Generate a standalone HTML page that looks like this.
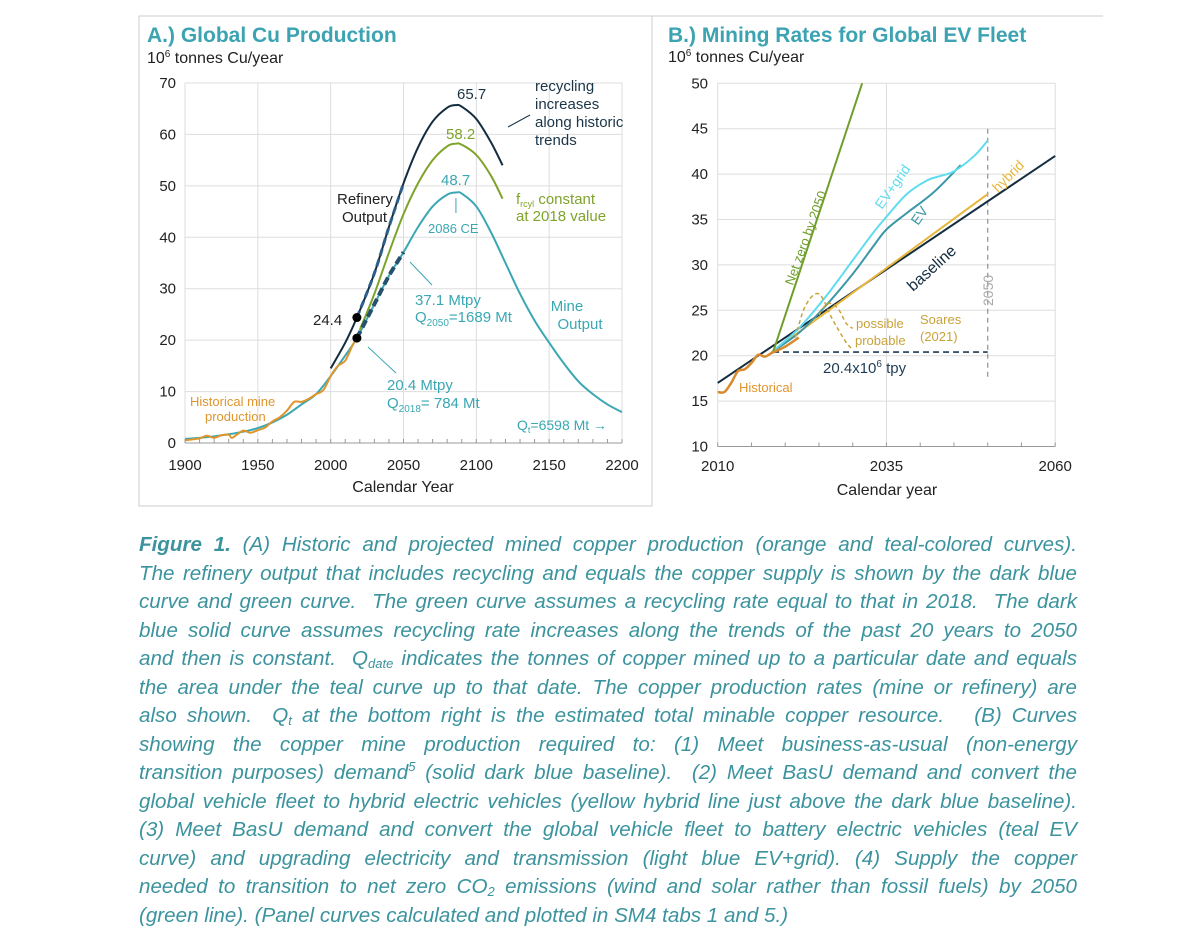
<!DOCTYPE html>
<html><head><meta charset="utf-8">
<style>
body{margin:0;width:1200px;height:950px;background:#fff;overflow:hidden;font-family:"Liberation Sans",sans-serif;}
#cap{position:absolute;left:139px;top:531px;width:938px;color:#3b939e;font-style:italic;font-size:20.6px;}
#cap div{height:28.5px;line-height:28.5px;text-align:justify;text-align-last:justify;white-space:nowrap;}
#cap div.last{text-align-last:left;}
#cap sub{font-size:13px;vertical-align:-3px;line-height:0}
#cap sup{font-size:13px;line-height:0}
</style></head><body>
<svg id="chart" width="1200" height="520" style="position:absolute;left:0;top:0" font-family="Liberation Sans, sans-serif"></svg>
<div id="cap">
<div><b>Figure 1.</b> (A) Historic and projected mined copper production (orange and teal-colored curves).</div>
<div>The refinery output that includes recycling and equals the copper supply is shown by the dark blue</div>
<div>curve and green curve.&nbsp; The green curve assumes a recycling rate equal to that in 2018.&nbsp; The dark</div>
<div>blue solid curve assumes recycling rate increases along the trends of the past 20 years to 2050</div>
<div>and then is constant.&nbsp; Q<sub>date</sub> indicates the tonnes of copper mined up to a particular date and equals</div>
<div>the area under the teal curve up to that date. The copper production rates (mine or refinery) are</div>
<div>also shown.&nbsp; Q<sub>t</sub> at the bottom right is the estimated total minable copper resource.&nbsp;&nbsp; (B) Curves</div>
<div>showing the copper mine production required to: (1) Meet business-as-usual (non-energy</div>
<div>transition purposes) demand<sup>5</sup> (solid dark blue baseline).&nbsp; (2) Meet BasU demand and convert the</div>
<div>global vehicle fleet to hybrid electric vehicles (yellow hybrid line just above the dark blue baseline).</div>
<div>(3) Meet BasU demand and convert the global vehicle fleet to battery electric vehicles (teal EV</div>
<div>curve) and upgrading electricity and transmission (light blue EV+grid). (4) Supply the copper</div>
<div>needed to transition to net zero CO<sub>2</sub> emissions (wind and solar rather than fossil fuels) by 2050</div>
<div class="last">(green line). (Panel curves calculated and plotted in SM4 tabs 1 and 5.)</div>
</div>
<script>
// Panel A data
const aMineYears=[1900,1910,1920,1930,1940,1950,1960,1970,1980,1990,2000,2010,2018,2030,2040,2050,2060,2070,2080,2086,2090,2100,2110,2120,2130,2140,2150,2160,2170,2180,2190,2200];
const aMineVals=[0.8,1.0,1.3,1.7,2.2,2.9,4.0,5.5,7.5,9.5,13,17,20.4,27,32.5,37.1,42,46,48.3,48.7,48.5,46,41,35,29,23.8,19.5,15.5,12,9.5,7.5,6];
const aRefYears=[2000,2010,2018,2030,2040,2050,2060,2070,2080,2086,2090,2100,2110,2118];
const aRefVals=[14.5,19.5,24.4,33,42,50.5,57.5,62.5,65.2,65.7,65.4,63,58.5,54];
const aGreenYears=[2020,2030,2040,2050,2060,2070,2080,2086,2090,2100,2110,2118];
const aGreenVals=[22,29,37,44.5,50.5,55,57.7,58.2,58,56,52,47.5];
const aHistYears=[1900,1905,1910,1915,1920,1925,1930,1932,1935,1940,1945,1950,1955,1960,1965,1970,1975,1980,1985,1990,1995,2000,2005,2010,2015,2018];
const aHistVals=[0.5,0.7,0.9,1.4,1.0,1.5,1.6,1.0,1.5,2.4,2.0,2.5,3.0,4.2,5.0,6.3,8.0,8.0,8.6,9.5,10.3,13,15,16,19,20.4];
const aYTicks=[0,10,20,30,40,50,60,70];
const aXTicks=[1900,1950,2000,2050,2100,2150,2200];
// Panel B data
const bBaseYears=[2010,2060];const bBaseVals=[17,42];
const bHybYears=[2018,2050];const bHybVals=[20.4,37.8];
const bEVYears=[2018,2022,2026,2030,2033,2035,2038,2042,2046];
const bEVVals=[20.4,22.5,25.5,29,32,33.9,35.7,38,41];
const bGridYears=[2018,2022,2026,2030,2033,2035,2038,2041,2043,2045,2048,2050];
const bGridVals=[20.4,23,26.5,30.5,33.5,35.3,37.8,39.3,39.8,40.3,42,43.7];
const bNZYears=[2018.2,2031.4];const bNZVals=[20.4,50];
const bHistYears=[2010,2011,2012,2013,2014,2015,2016,2017,2018,2020,2022];
const bHistVals=[16,16,17,18.3,18.5,19.2,20.1,19.9,20.3,21,22];
const bProbYears=[2021.5,2023,2025,2027,2029,2030];
const bProbVals=[22,25.5,26.8,24,21.5,20.7];
const bPossYears=[2025,2026,2027,2028,2029,2030];
const bPossVals=[24.5,25.6,25.7,25,23.6,23];
const bYTicks=[10,15,20,25,30,35,40,45,50];
const bXTicks=[2010,2035,2060];

const NS="http://www.w3.org/2000/svg";
const svg=document.getElementById('chart');
function el(tag,attrs,parent){const e=document.createElementNS(NS,tag);for(const k in attrs)e.setAttribute(k,attrs[k]);(parent||svg).appendChild(e);return e;}
function txt(s,x,y,opt,name){const t=el('text',Object.assign({x:x,y:y,'font-size':15,fill:'#222'},opt||{}));t.textContent=s;

return t;}
const ax=y=>185+(y-1900)*(622-185)/300, ay=v=>443-v*(360/70);
const bx=y=>717.7+(y-2010)*6.75, by=v=>83.3+(50-v)*9.08;
function smooth(xs,vs,fx,fy){const p=xs.map((x,i)=>[fx(x),fy(vs[i])]);let d='M'+p[0][0]+','+p[0][1];
for(let i=0;i<p.length-1;i++){const p0=p[Math.max(0,i-1)],p1=p[i],p2=p[i+1],p3=p[Math.min(p.length-1,i+2)];
d+=' C'+(p1[0]+(p2[0]-p0[0])/6)+','+(p1[1]+(p2[1]-p0[1])/6)+' '+(p2[0]-(p3[0]-p1[0])/6)+','+(p2[1]-(p3[1]-p1[1])/6)+' '+p2[0]+','+p2[1];}return d;}
function line(xs,vs,fx,fy,stroke,w,name,dash){const a={d:smooth(xs,vs,fx,fy),fill:'none',stroke:stroke,'stroke-width':w};if(dash)a['stroke-dasharray']=dash;const p=el('path',a);

return p;}

// frames
el('line',{x1:139,y1:16,x2:1103,y2:16,stroke:'#ccc','stroke-width':1});
el('rect',{x:139,y:16,width:513,height:490,fill:'none',stroke:'#ccc','stroke-width':1});
// Panel A
txt('A.) Global Cu Production',147,42,{'font-size':21,'font-weight':'bold',fill:'#3ba3b1'},'panel-a-title');
const ua=txt('',147,63,{'font-size':16},'panel-a-y-unit');ua.innerHTML='10<tspan font-size="10" dy="-6">6</tspan><tspan dy="6"> tonnes  Cu/year</tspan>';
aYTicks.forEach(v=>{el('line',{x1:185,x2:622,y1:ay(v),y2:ay(v),stroke:'#ddd'});txt(v,176,ay(v)+5,{'text-anchor':'end'},'y-tick-label');});
aXTicks.forEach(v=>{el('line',{x1:ax(v),x2:ax(v),y1:83,y2:443,stroke:'#ddd'});txt(v,ax(v),470,{'text-anchor':'middle'},'x-tick-label');});
for(let y=1900;y<=2200;y+=10)el('line',{x1:ax(y),x2:ax(y),y1:443,y2:439,stroke:'#999'});
el('line',{x1:185,x2:622,y1:443,y2:443,stroke:'#999'});
txt('Calendar  Year',403,492,{'text-anchor':'middle','font-size':16},'x-axis-title');
line(aMineYears,aMineVals,ax,ay,'#3aa7b3',2,'mine-output-curve');
line(aHistYears,aHistVals,ax,ay,'#e0952c',2,'historical-mine-curve');
line(aGreenYears,aGreenVals,ax,ay,'#7ea32b',2,'refinery-constant-recycling-curve');
line(aRefYears,aRefVals,ax,ay,'#132c3e',2,'refinery-increasing-recycling-curve');
line(aRefYears.slice(2,6),aRefVals.slice(2,6),ax,ay,'#2e5f8a',3,'refinery-projection-dashed','7 4');
line(aMineYears.slice(12,16),aMineVals.slice(12,16),ax,ay,'#25506e',4,'mine-projection-dashed','8 4');
[[2018,24.4],[2018,20.4]].forEach(p=>{const c=el('circle',{cx:ax(p[0]),cy:ay(p[1]),r:4.5,fill:'#000'});});
txt('24.4',313,325,{},'value-24-4');
txt('65.7',457,99,{'fill':'#1b3548'},'peak-65-7');txt('58.2',446,139,{fill:'#7ea32b'},'peak-58-2');txt('48.7',441,185,{fill:'#3aa7b3'},'peak-48-7');
el('line',{x1:ax(2086),x2:ax(2086),y1:213,y2:198,stroke:'#3aa7b3'});
txt('2086 CE',428,233,{'font-size':13,fill:'#3aa7b3'},'peak-year-label');
txt('Refinery',337,204,{},'refinery-label');txt('Output',342,222,{},'refinery-label-2');
['recycling','increases','along historic','trends'].forEach((s,i)=>txt(s,535,91+i*18,{fill:'#1b3548'},'recycling-note'));
el('line',{x1:530,y1:115,x2:508,y2:127,stroke:'#1b3548'});
txt('f',516,204,{fill:'#7ea32b'},'frcyl-label').innerHTML='f<tspan font-size="9" dy="3">rcyl</tspan><tspan dy="-3"> constant</tspan>';
txt('at 2018 value',516,221,{fill:'#7ea32b'},'frcyl-label-2');
txt('37.1 Mtpy',415,305,{fill:'#3aa7b3'},'q2050-rate');
txt('',415,322,{fill:'#3aa7b3'},'q2050-label').innerHTML='Q<tspan font-size="10" dy="4">2050</tspan><tspan dy="-4">=1689 Mt</tspan>';
el('line',{x1:432,y1:285,x2:410,y2:262,stroke:'#3aa7b3'});
txt('Mine',567,311,{fill:'#3aa7b3','text-anchor':'middle'},'mine-label');txt('Output',580,329,{fill:'#3aa7b3','text-anchor':'middle'},'mine-label-2');
txt('20.4 Mtpy',387,390,{fill:'#3aa7b3'},'q2018-rate');
txt('',387,408,{fill:'#3aa7b3'},'q2018-label').innerHTML='Q<tspan font-size="10" dy="4">2018</tspan><tspan dy="-4">= 784 Mt</tspan>';
el('line',{x1:396,y1:373,x2:368,y2:347,stroke:'#3aa7b3'});
txt('Historical mine',190,406,{fill:'#e0952c','font-size':13},'historical-label');txt('production',205,421,{fill:'#e0952c','font-size':13},'historical-label-2');
txt('',517,430,{fill:'#3aa7b3','font-size':14},'qt-label').innerHTML='Q<tspan font-size="9" dy="3">t</tspan><tspan dy="-3">=6598 Mt →</tspan>';
// Panel B
txt('B.) Mining Rates for Global EV Fleet',668,42,{'font-size':21,'font-weight':'bold',fill:'#3ba3b1'},'panel-b-title');
const ub=txt('',668,62,{'font-size':16},'panel-b-y-unit');ub.innerHTML='10<tspan font-size="10" dy="-6">6</tspan><tspan dy="6"> tonnes  Cu/year</tspan>';
bYTicks.forEach(v=>{el('line',{x1:bx(2010),x2:bx(2060),y1:by(v),y2:by(v),stroke:'#ddd'});txt(v,708,by(v)+5,{'text-anchor':'end'},'y-tick-label');});
bXTicks.forEach(v=>{el('line',{x1:bx(v),x2:bx(v),y1:by(50),y2:by(10),stroke:'#ddd'});txt(v,bx(v),471,{'text-anchor':'middle'},'x-tick-label');});
for(let y=2010;y<=2060;y+=5)el('line',{x1:bx(y),x2:bx(y),y1:by(10),y2:by(10)-4,stroke:'#999'});
el('line',{x1:bx(2010),x2:bx(2060),y1:by(10),y2:by(10),stroke:'#999'});
txt('Calendar  year',887,495,{'text-anchor':'middle','font-size':16},'x-axis-title-b');
const vl=el('line',{x1:bx(2050),x2:bx(2050),y1:by(45),y2:by(17.5),stroke:'#999','stroke-dasharray':'5 4','stroke-width':1.3});
const hl=el('line',{x1:bx(2018.2),x2:bx(2050),y1:by(20.4),y2:by(20.4),stroke:'#1f3d55','stroke-dasharray':'6 4','stroke-width':1.6});

line(bBaseYears,bBaseVals,bx,by,'#152d40',2,'baseline-line');
line(bHybYears,bHybVals,bx,by,'#e8b73a',2,'hybrid-line');
line(bEVYears,bEVVals,bx,by,'#3c97a8',2,'ev-curve');
line(bGridYears,bGridVals,bx,by,'#5fdcef',2,'ev-grid-curve');
line(bNZYears,bNZVals,bx,by,'#6f9e2a',2,'net-zero-line');
line(bHistYears,bHistVals,bx,by,'#d98a2c',2.5,'historical-b-curve');
line(bProbYears,bProbVals,bx,by,'#c9a23a',1.5,'soares-probable','4 3');
line(bPossYears,bPossVals,bx,by,'#c9a23a',1.5,'soares-possible','4 3');
txt('Net zero by 2050',0,0,{fill:'#6f9e2a','font-size':13,transform:'translate(793,286) rotate(-70)'},'net-zero-label');
txt('EV+grid',0,0,{fill:'#5fdcef','font-size':14,transform:'translate(882,210) rotate(-55)'},'ev-grid-label');
txt('EV',0,0,{fill:'#3c97a8','font-size':14,transform:'translate(918,226) rotate(-55)'},'ev-label');
txt('hybrid',0,0,{fill:'#e8b73a','font-size':14,transform:'translate(998,193) rotate(-45)'},'hybrid-label');
txt('baseline',0,0,{fill:'#152d40','font-size':16,transform:'translate(913,292) rotate(-42)'},'baseline-label');
txt('2050',0,0,{fill:'#aaa','font-size':14,transform:'translate(993,306) rotate(-90)'},'year-2050-label');
txt('possible',856,328,{fill:'#c9a23a','font-size':13},'possible-label');
txt('probable',855,345,{fill:'#c9a23a','font-size':13},'probable-label');
txt('Soares',920,324,{fill:'#c9a23a','font-size':13},'soares-label');txt('(2021)',920,341,{fill:'#c9a23a','font-size':13},'soares-year');
txt('',823,373,{fill:'#1f3d55'},'rate-20-4-label').innerHTML='20.4x10<tspan font-size="10" dy="-6">6</tspan><tspan dy="6">  tpy</tspan>';
txt('Historical',739,392,{fill:'#e0952c','font-size':13},'historical-b-label');
</script>
</body></html>
